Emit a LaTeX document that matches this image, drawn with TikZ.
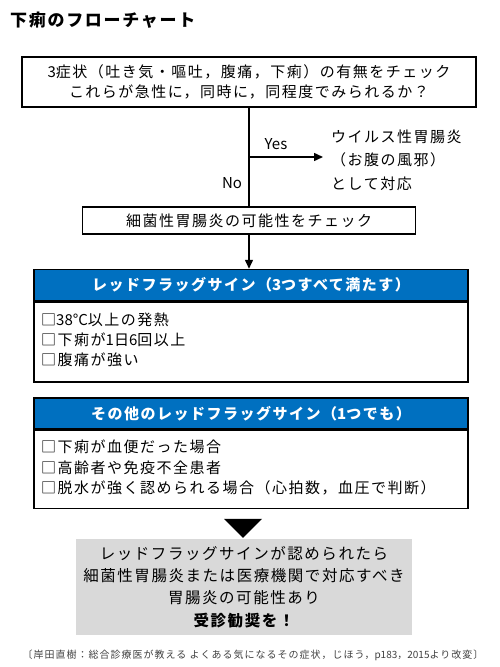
\documentclass[tikz,border=0pt]{standalone}
\usepackage{fontspec}
\setmainfont[LetterSpace=10]{Noto Sans CJK JP}
\newfontfamily\lat{Noto Sans CJK JP}
\usetikzlibrary{arrows.meta,calc}
\definecolor{hdrblue}{HTML}{0070C0}
\definecolor{boxgray}{HTML}{D9D9D9}
\definecolor{citegray}{HTML}{404040}
\tikzset{
  frame/.style={draw=black, line width=1.5pt, fill=white, inner sep=0pt},
  hdr/.style={draw=black, line width=1.5pt, fill=hdrblue, text=white, font=\fontsize{15}{18}\selectfont\bfseries, inner sep=0pt, minimum width=434pt, minimum height=31pt},
  body/.style={draw=black, line width=1.5pt, fill=white, inner sep=0pt, minimum width=434pt},
  txt/.style={font=\fontsize{15}{20}\selectfont, inner sep=0pt},
  items/.style={font=\fontsize{15}{20.3}\selectfont, inner sep=0pt, align=left},
  conn/.style={line width=1.5pt, -{Triangle[length=9pt,width=8pt]}},
  plain/.style={line width=1.5pt}
}
\begin{document}
\begin{tikzpicture}[x=1pt,y=-1pt]
\useasboundingbox (0,0) rectangle (500,667);
\node[font=\fontsize{17}{20}\selectfont\bfseries, anchor=west, inner sep=0pt] (title) at (10,20) {下痢のフローチャート};
\node[frame, minimum width=454pt, minimum height=50pt, align=center, txt] (b1) at (249,82) {{\lat 3}症状（吐き気・嘔吐，腹痛，下痢）の有無をチェック\\これらが急性に，同時に，同程度でみられるか？};
\node[frame, minimum width=333pt, minimum height=27pt, txt] (b2) at (249,220.5) {細菌性胃腸炎の可能性をチェック};
\coordinate (yesstart) at (b1.south |- 0,157);
\coordinate (yesend) at (323,157);
\draw[plain] (b1.south) -- (b2.north);
\draw[conn] (yesstart) -- (yesend);
\node[txt, anchor=center, font=\fontsize{15}{20}\selectfont\lat] (yes) at (276,144) {Yes};
\node[txt, anchor=center, font=\fontsize{15}{20}\selectfont\lat] (no) at (232,183) {No};
\node[txt, anchor=west, align=left, font=\fontsize{15}{23.5}\selectfont] (virus) at (331,160) {ウイルス性胃腸炎\\（お腹の風邪）\\として対応};
% box 3
\node[hdr] (h3) at (251,285) {レッドフラッグサイン（{\lat 3}つすべて満たす）};
\node[body, minimum height=80pt, anchor=north] (r3) at (h3.south) {};
\node[items, anchor=west] (i3) at (41,340) {□{\lat 38°C}以上の発熱\\□下痢が{\lat 1}日{\lat 6}回以上\\□腹痛が強い};
\draw[conn] (b2.south) -- (h3.north -| b2.south);
% box 4
\node[hdr] (h4) at (251,413.5) {その他のレッドフラッグサイン（{\lat 1}つでも）};
\node[body, minimum height=78pt, anchor=north] (r4) at (h4.south) {};
\node[items, anchor=west, font=\fontsize{15}{20.5}\selectfont] (i4) at (41,467.5) {□下痢が血便だった場合\\□高齢者や免疫不全患者\\□脱水が強く認められる場合（心拍数，血圧で判断）};
% gray box
\node[fill=boxgray, minimum width=336pt, minimum height=96pt, inner sep=0pt] (g) at (244,587) {};
\node[txt, align=center, font=\fontsize{15.5}{22.3}\selectfont] (gt) at (g.center) {レッドフラッグサインが認められたら\\細菌性胃腸炎または医療機関で対応すべき\\胃腸炎の可能性あり\\{\bfseries 受診勧奨を！}};
\fill[black] ($(g.north)+(-20,-20)$) -- ($(g.north)+(18,-20)$) -- ($(g.north)+(-1,-1)$) -- cycle;
\node[font=\fontsize{10}{12}\selectfont, text=citegray, inner sep=0pt] (cite) at (253,655) {〔岸田直樹：総合診療医が教える よくある気になるその症状，じほう，{\lat p183}，{\lat 2015}より改変〕};
\end{tikzpicture}
\end{document}
